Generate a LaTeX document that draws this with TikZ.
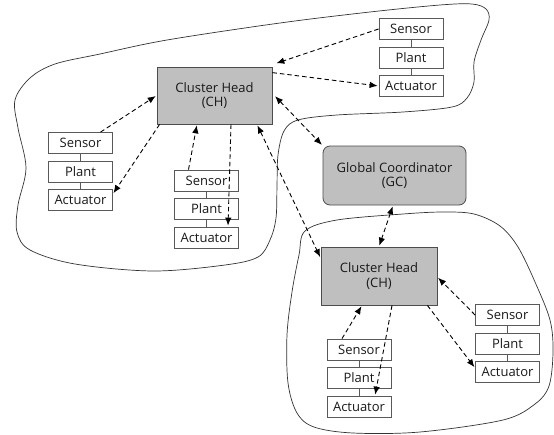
\documentclass[tikz,border=0pt]{standalone}
\usepackage{fontspec}
\setmainfont{Open Sans}
\usepackage{tikz}
\usetikzlibrary{arrows.meta,positioning}

\begin{document}
\begin{tikzpicture}[x=1pt,y=-1pt]
\tikzset{
  every node/.style={inner sep=0pt, text=black!90, font=\fontsize{13}{14.5}\selectfont},
  unit/.style={draw=black!65, line width=0.8pt, minimum width=64pt, minimum height=21pt},
  head/.style={draw=black!70, fill=black!25, line width=0.8pt, align=center},
  link/.style={dashed, dash pattern=on 4.5pt off 3pt, line width=0.9pt, -{Latex[length=8pt,width=6.5pt]}, shorten >=1pt},
  both/.style={link, {Latex[length=8pt,width=6.5pt]}-{Latex[length=8pt,width=6.5pt]}, shorten <=1pt},
  cloud/.style={line width=0.7pt, black!80}
}
\useasboundingbox (0,0) rectangle (554,434);
% cluster borders
\draw [cloud] plot [smooth cycle, tension=0.55] coordinates {
  (15,100) (30,78) (55,64) (100,54) (167,40) (280,23) (370,12) (440,5) (472,4) (486,9)
  (489,20) (481,40) (474,62) (474,82) (467,98) (452,107) (403,112) (337,115) (298,120)
  (284,131) (278,155) (277,185) (276,218) (270,240) (258,257) (225,265) (153,271)
  (75,264) (30,250) (17,232) (18,205) (26,168) (18,128)};
\draw [cloud] plot [smooth cycle, tension=0.55] coordinates {
  (305,231) (337,220) (403,214) (443,212) (474,214) (500,226) (518,247) (535,282)
  (550,320) (553,352) (549,386) (535,404) (503,420) (420,432) (353,433) (314,427)
  (297,413) (288,383) (287,335) (292,292) (299,255)};
% heads
\node [head, minimum width=115pt, minimum height=57pt] (ch1) at (214.5,95.5) {Cluster Head\\(CH)};
\node [head, minimum width=116pt, minimum height=58pt] (ch2) at (379,276) {Cluster Head\\(CH)};
\node [head, rounded corners=7pt, minimum width=143pt, minimum height=59pt] (gc) at (394.5,175.5) {Global Coordinator\\(GC)};
% top right loop
\node [unit] (trs) at (411,29) {Sensor};
\node [unit] (trp) at (411,57.5) {Plant};
\node [unit] (tra) at (411,86) {Actuator};
% left loop
\node [unit] (ls) at (80.5,143) {Sensor};
\node [unit] (lp) at (80.5,171.5) {Plant};
\node [unit] (la) at (80.5,200) {Actuator};
% middle loop
\node [unit] (ms) at (206.5,180.5) {Sensor};
\node [unit] (mp) at (206.5,209) {Plant};
\node [unit] (ma) at (206.5,237.5) {Actuator};
% bottom left loop
\node [unit] (bls) at (359,349.5) {Sensor};
\node [unit] (blp) at (359,378) {Plant};
\node [unit] (bla) at (359,406.5) {Actuator};
% bottom right loop
\node [unit] (brs) at (507.5,315) {Sensor};
\node [unit] (brp) at (507.5,343.5) {Plant};
\node [unit] (bra) at (507.5,372) {Actuator};
\foreach \a/\b in {trs/trp,trp/tra,ls/lp,lp/la,ms/mp,mp/ma,bls/blp,blp/bla,brs/brp,brp/bra}
  \draw [black!65, line width=0.8pt] (\a.south) -- (\b.north);
% links
\draw [link] ([xshift=20pt]ls.north) -- (ch1.west);
\draw [link] ([xshift=3pt]ch1.south west) -- ([yshift=6pt]la.east);
\draw [link] ([xshift=-18pt]ms.north) -- ([xshift=-17.5pt]ch1.south);
\draw [link] ([xshift=16.5pt]ch1.south) -- ([xshift=21.5pt]ma.north);
\draw [link] (trs.west) -- ([shift={(3pt,3pt)}]ch1.north east);
\draw [link] ([yshift=-6pt]ch1.north east) -- (tra.west);
\draw [both] ([xshift=2pt]ch1.east) -- (gc.north west);
\draw [both] ([xshift=42.5pt]ch1.south) -- ([yshift=18pt]ch2.west);
\draw [both] ([xshift=-1.5pt]gc.south) -- (ch2.north);
\draw [link] ([xshift=-17pt]bls.north) -- ([xshift=-17pt]ch2.south);
\draw [link] ([xshift=13pt]ch2.south) -- ([xshift=16pt]bla.north);
\draw [link] (brs.west) -- ([yshift=-1pt]ch2.east);
\draw [link] ([xshift=-10pt]ch2.south east) -- ([yshift=4pt]bra.west);
\end{tikzpicture}
\end{document}
